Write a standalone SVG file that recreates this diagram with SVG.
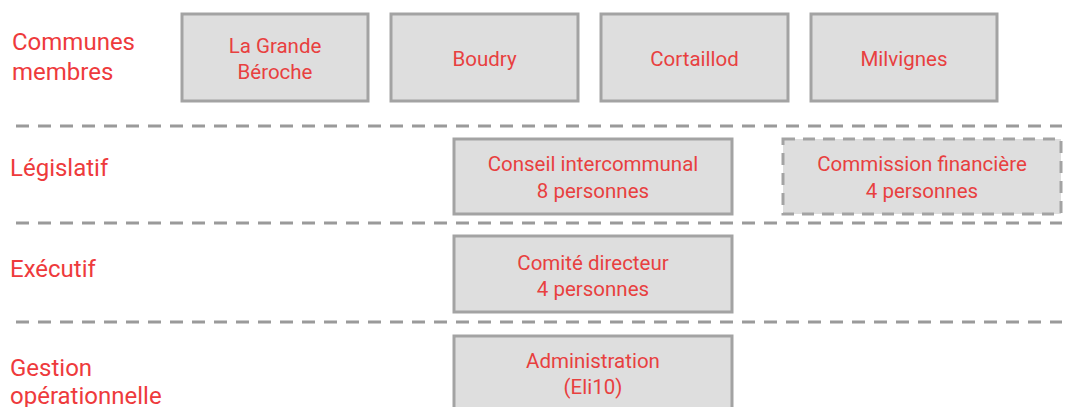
<svg xmlns="http://www.w3.org/2000/svg" width="1066" height="407" viewBox="0 0 1066 407">
<style>
.box{fill:#dedede;stroke:#a3a3a3;stroke-width:3}
.dbox{fill:#dedede;stroke:#a3a3a3;stroke-width:3;stroke-dasharray:12 8}
.sep{stroke:#9a9a9a;stroke-width:3;stroke-dasharray:13 9;fill:none}
.t{font-family:Roboto,"Liberation Sans",sans-serif;font-size:20.5px;fill:#e8403f;text-anchor:middle}
.lab{font-family:Roboto,"Liberation Sans",sans-serif;font-size:24px;fill:#ee3a3c}
</style>
<rect width="1066" height="407" fill="#ffffff"/>
<g id="separators">
<line class="sep" x1="16" y1="126" x2="1062" y2="126"/>
<line class="sep" x1="16" y1="223" x2="1062" y2="223"/>
<line class="sep" x1="16" y1="322" x2="1062" y2="322"/>
</g>
<g id="labels">
<text class="lab" x="12" y="50">Communes</text>
<text class="lab" x="12" y="80">membres</text>
<text class="lab" x="10" y="176">Législatif</text>
<text class="lab" x="10" y="277">Exécutif</text>
<text class="lab" x="10" y="376">Gestion</text>
<text class="lab" x="10" y="404">opérationnelle</text>
</g>
<g id="n-lagrandeberoche"><rect class="box" x="182" y="14" width="186" height="87"/><text class="t" x="275" y="53">La Grande</text><text class="t" x="275" y="79">Béroche</text></g>
<g id="n-boudry"><rect class="box" x="391" y="14" width="187" height="87"/><text class="t" x="484.5" y="66">Boudry</text></g>
<g id="n-cortaillod"><rect class="box" x="601" y="14" width="187" height="87"/><text class="t" x="694.5" y="66">Cortaillod</text></g>
<g id="n-milvignes"><rect class="box" x="811" y="14" width="186" height="87"/><text class="t" x="904" y="66">Milvignes</text></g>
<g id="n-conseil"><rect class="box" x="454" y="139" width="278" height="75"/><text class="t" x="593" y="171">Conseil intercommunal</text><text class="t" x="593" y="198">8 personnes</text></g>
<g id="n-commission"><rect class="dbox" x="783" y="139" width="278" height="75"/><text class="t" x="922" y="171">Commission financière</text><text class="t" x="922" y="198">4 personnes</text></g>
<g id="n-comite"><rect class="box" x="454" y="236" width="278" height="76"/><text class="t" x="593" y="270">Comité directeur</text><text class="t" x="593" y="296">4 personnes</text></g>
<g id="n-admin"><rect class="box" x="454" y="336" width="278" height="80"/><text class="t" x="593" y="368">Administration</text><text class="t" x="593" y="394">(Eli10)</text></g>
<g id="connectors"></g>
</svg>
